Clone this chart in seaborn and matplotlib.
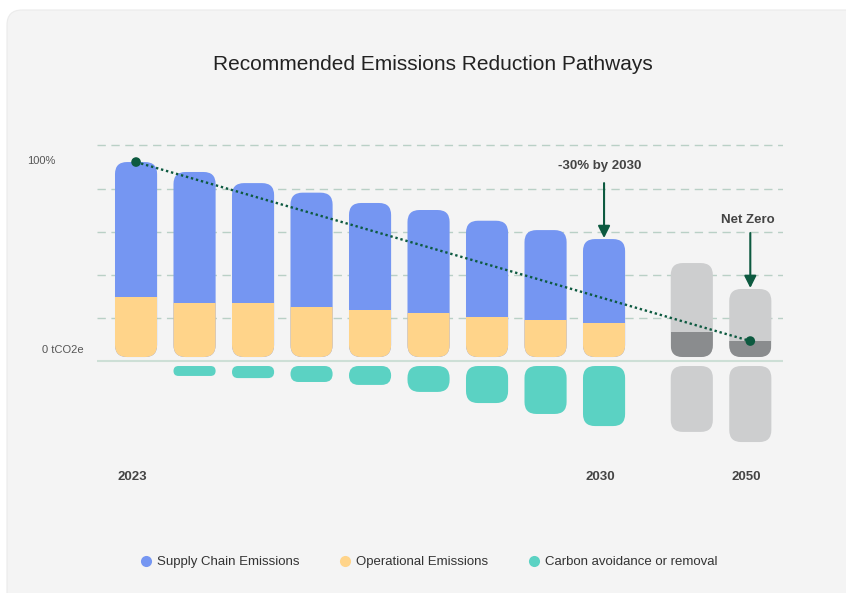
import numpy as np
import matplotlib
matplotlib.use("Agg")
import matplotlib.pyplot as plt
from matplotlib.patches import FancyBboxPatch
from matplotlib.lines import Line2D
from matplotlib.transforms import ScaledTranslation
import seaborn as sns

# values as % of 2023 emissions
year_labels = ["2023", "", "", "", "", "", "", "", "2030"]
supply_chain = [69.2, 67.2, 61.5, 58.7, 55.1, 53.0, 49.2, 46.3, 43.1]
operational = [30.8, 27.7, 27.7, 25.6, 23.9, 22.4, 20.7, 18.8, 17.4]
carbon_removal = [0, 5.1, 6.2, 8.2, 9.7, 13.3, 19.0, 24.6, 30.8]

future_labels = ["", "2050"]
future_total = [48.2, 34.9]
future_residual = [12.8, 8.2]
future_removal = [33.8, 39.0]

grid_levels = [20.0, 42.1, 64.3, 86.4, 108.5]
legend_labels = ["Supply Chain Emissions", "Operational Emissions", "Carbon avoidance or removal"]

BLUE = "#7596f2"
ORANGE = "#ffd48a"
TEAL = "#5bd2c3"
LIGHT_GRAY = "#cdcecf"
DARK_GRAY = "#8a8c8e"
GREEN = "#0d5a40"
TEXT = "#444444"

sns.set_theme(style="white")
plt.rcParams["font.family"] = ["Liberation Sans", "DejaVu Sans"]

fig = plt.figure(figsize=(8.46, 5.93), dpi=100)
fig.patch.set_facecolor("white")

# light card behind everything
card = FancyBboxPatch((0.07, -0.3), 8.9, 6.13, boxstyle="round,pad=0,rounding_size=0.15",
                      transform=fig.dpi_scale_trans, fc="#f4f4f4", ec="#ebebeb", lw=0.8, zorder=-1)
fig.patches.append(card)

ax = fig.add_axes([0.1147, 0.2243, 0.8109, 0.5396])
ax.patch.set_alpha(0)

pos = np.arange(len(supply_chain))
future_pos = np.array([9.5, 10.5])
total = np.add(supply_chain, operational)
gap = 4.6  # negative bars hang a little below the baseline

bar_kw = dict(native_scale=True, width=0.72, errorbar=None, saturation=1, linewidth=0, ax=ax)

sns.barplot(x=pos, y=total, color=BLUE, **bar_kw)
c_total = ax.containers[-1]
sns.barplot(x=pos, y=operational, color=ORANGE, **bar_kw)
c_oper = ax.containers[-1]
sns.barplot(x=pos, y=-np.array(carbon_removal), color=TEAL, **bar_kw)
c_removal = ax.containers[-1]
sns.barplot(x=future_pos, y=future_total, color=LIGHT_GRAY, **bar_kw)
c_ftotal = ax.containers[-1]
sns.barplot(x=future_pos, y=future_residual, color=DARK_GRAY, **bar_kw)
c_fres = ax.containers[-1]
sns.barplot(x=future_pos, y=-np.array(future_removal), color=LIGHT_GRAY, **bar_kw)
c_fremoval = ax.containers[-1]

ax.set_xlim(-0.667, 11.06)
ax.set_ylim(-52.8, 111.3)

# pixel scale of the data units, used for round corners
p0 = ax.transData.transform((0, 0))
p1 = ax.transData.transform((1, 1))
px_x, px_y = p1[0] - p0[0], p1[1] - p0[1]


def rounded(x0, y0, w, h, color, r_px=12):
    r = min(r_px, h * px_y / 2, w * px_x / 2)
    p = FancyBboxPatch((x0, y0), w, h, boxstyle=f"round,pad=0,rounding_size={r / px_x}",
                       mutation_aspect=px_x / px_y, fc=color, ec="none", zorder=2)
    ax.add_patch(p)
    return p


def to_rounded(container, color, shift=0.0):
    shapes = []
    for bar in container:
        x0, w = bar.get_x(), bar.get_width()
        y0, h = bar.get_y(), bar.get_height()
        bar.remove()
        if h < 0:
            y0, h = y0 + h, -h
        if h == 0:
            shapes.append(None)
            continue
        shapes.append(rounded(x0, y0 + shift, w, h, color))
    return shapes


def clip_inside(container, shapes):
    for bar, shape in zip(container, shapes):
        bar.set_zorder(2.5)
        bar.set_clip_path(shape)


clip_inside(c_oper, to_rounded(c_total, BLUE))
to_rounded(c_removal, TEAL, shift=-gap)
clip_inside(c_fres, to_rounded(c_ftotal, LIGHT_GRAY))
to_rounded(c_fremoval, LIGHT_GRAY, shift=-gap)

# grid and baseline
for level in grid_levels:
    ax.axhline(level, color="#b9d0c6", lw=1, dashes=(6, 4), zorder=0)
ax.axhline(-2.1, color="#cddfd6", lw=1.5, zorder=1)

# pathway line
path_x = [pos[0], future_pos[-1]]
path_y = [total[0], future_residual[-1]]
ax.plot(path_x, path_y, color=GREEN, lw=1.7, linestyle=(0, (1, 1.2)), zorder=4)
sns.scatterplot(x=path_x, y=path_y, color=GREEN, s=48, edgecolor="none", zorder=5, ax=ax)

# callouts
arrow_kw = dict(arrowstyle="-|>,head_length=0.6,head_width=0.3", color=GREEN, lw=1.5,
                shrinkA=0, shrinkB=0)
ax.annotate("", xy=(pos[-1], total[-1] + 0.5), xytext=(pos[-1], 89.2), arrowprops=arrow_kw, zorder=4)
ax.text(pos[-1] - 0.07, 97.9, "-30% by 2030", ha="center", va="center", fontsize=9.5,
        fontweight="bold", color=TEXT)
ax.annotate("", xy=(future_pos[-1], future_total[-1] + 0.5), xytext=(future_pos[-1], 63.6),
            arrowprops=arrow_kw, zorder=4)
ax.text(future_pos[-1] - 0.04, 70.3, "Net Zero", ha="center", va="center", fontsize=9.5,
        fontweight="bold", color=TEXT)

ax.set_xticks(list(pos) + list(future_pos))
ax.set_xticklabels(year_labels + future_labels, fontsize=9.5, fontweight="bold", color=TEXT)
ax.tick_params(axis="x", length=0, pad=8)
shift = ScaledTranslation(-4 / 100, 0, fig.dpi_scale_trans)
for lab in ax.get_xticklabels():
    lab.set_transform(lab.get_transform() + shift)
ax.set_yticks([])
sns.despine(ax=ax, left=True, bottom=True)

fig.text(27 / 846, 1 - 161 / 593, "100%", ha="left", va="center", fontsize=8, color="#555555")
fig.text(84 / 846, 1 - 350 / 593, "0 tCO2e", ha="right", va="center", fontsize=8, color="#555555")

fig.text(0.512, 1 - 65 / 593, "Recommended Emissions Reduction Pathways", ha="center", va="center",
         fontsize=15, color="#222222")

handles = [Line2D([], [], marker="o", ls="", markersize=8, mfc=c, mec="none")
           for c in [BLUE, ORANGE, TEAL]]
fig.legend(handles, legend_labels, loc="center", bbox_to_anchor=(0.507, 0.052), ncol=3,
           frameon=False, fontsize=9.5, handlelength=0.8, handletextpad=0.45,
           columnspacing=3.06, labelcolor="#333333")

fig.savefig("out.png", dpi=100)
